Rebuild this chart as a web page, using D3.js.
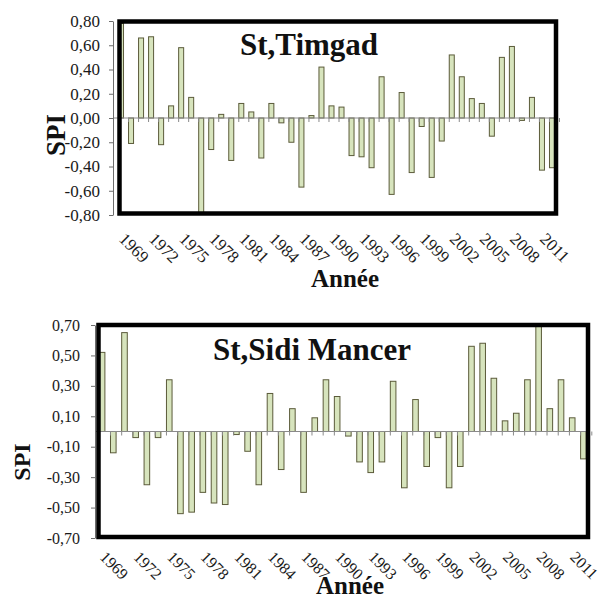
<!DOCTYPE html>
<html>
<head>
<meta charset="utf-8">
<script src="https://cdn.jsdelivr.net/npm/d3@7"></script>
<style>
  body { margin: 0; background: #fff; }
  svg { display: block; }
</style>
</head>
<body>
<script>
// Categories (years) shared by both stations
const years = [1969, 1970, 1971, 1972, 1973, 1974, 1975, 1976, 1977, 1978, 1979,
    1980, 1981, 1982, 1983, 1984, 1985, 1986, 1987, 1988, 1989, 1990, 1991,
    1992, 1993, 1994, 1995, 1996, 1997, 1998, 1999, 2000, 2001, 2002, 2003,
    2004, 2005, 2006, 2007, 2008, 2009, 2010, 2011, 2012];
const yearLabels = [1969, 1972, 1975, 1978, 1981, 1984, 1987, 1990, 1993,
    1996, 1999, 2002, 2005, 2008, 2011];

// SPI values
const timgadSpi = [0.78, -0.21, 0.66, 0.67, -0.22, 0.10, 0.58, 0.17, -0.78, -0.26,
    0.03, -0.35, 0.12, 0.05, -0.33, 0.12, -0.04, -0.20, -0.57, 0.02, 0.42, 0.10,
    0.09, -0.31, -0.32, -0.41, 0.34, -0.63, 0.21, -0.45, -0.07, -0.49, -0.19, 0.52,
    0.34, 0.16, 0.12, -0.15, 0.50, 0.59, -0.02, 0.17, -0.43, -0.41];
const sidiMancerSpi = [0.52, -0.14, 0.65, -0.04, -0.35, -0.04, 0.34, -0.54, -0.53,
    -0.40, -0.47, -0.48, -0.02, -0.13, -0.35, 0.25, -0.25, 0.15, -0.40, 0.09, 0.34,
    0.23, -0.03, -0.20, -0.27, -0.20, 0.33, -0.37, 0.21, -0.23, -0.04, -0.37, -0.23,
    0.56, 0.58, 0.35, 0.07, 0.12, 0.34, 0.71, 0.15, 0.34, 0.09, -0.18];

// Y tick values
const timgadTicks = [-0.8, -0.6, -0.4, -0.2, 0, 0.2, 0.4, 0.6, 0.8];
const sidiMancerTicks = [-0.7, -0.5, -0.3, -0.1, 0.1, 0.3, 0.5, 0.7];

const FONT = "'Liberation Serif', 'Times New Roman', serif";
const fmt = d3.formatLocale({
    decimal: ",", thousands: " ", grouping: [3], currency: ["", ""], minus: "-"
}).format(".2f");

const svg = d3.select('body')
    .append('svg')
    .attr('width', 600)
    .attr('height', 599);

function drawChart(values, ticks, title, o) {
    const g = svg.append('g');

    const x = d3.scaleBand()
        .domain(years)
        .range(o.xRange)
        .paddingInner(0.5)
        .paddingOuter(0.25);
    const y = d3.scaleLinear()
        .domain(o.domain)
        .range(o.yRange);
    const step = x.step();

    // bars
    g.append('g')
        .selectAll('rect')
        .data(values)
        .join('rect')
        .attr('x', (d, i) => x(years[i]))
        .attr('y', d => y(Math.max(0, Math.min(d, o.domain[1]))))
        .attr('width', x.bandwidth())
        .attr('height', d => Math.abs(y(Math.max(o.domain[0], Math.min(d, o.domain[1]))) - y(0)))
        .attr('fill', '#d7e4bd')
        .attr('stroke', '#5b5b3a')
        .attr('stroke-width', 1);

    // category axis on the zero line
    const zero = g.append('g').attr('stroke', '#8a8a8a');
    zero.append('line')
        .attr('x1', o.axisX).attr('x2', o.xRange[1])
        .attr('y1', y(0)).attr('y2', y(0));
    zero.selectAll('line.tk')
        .data(years.concat([null]))
        .join('line')
        .attr('class', 'tk')
        .attr('x1', (d, i) => o.xRange[0] + i * step + step * 0.25)
        .attr('x2', (d, i) => o.xRange[0] + i * step + step * 0.25)
        .attr('y1', y(0)).attr('y2', y(0) + 4);

    // thick plot frame
    g.append('rect')
        .attr('x', o.frame[0]).attr('y', o.frame[1])
        .attr('width', o.frame[2]).attr('height', o.frame[3])
        .attr('fill', 'none')
        .attr('stroke', '#000')
        .attr('stroke-width', 4.5);

    // value axis
    const yAxis = d3.axisLeft(y)
        .tickValues(ticks)
        .tickFormat(fmt)
        .tickSize(4)
        .tickSizeOuter(0)
        .tickPadding(o.tickPadding);
    const ya = g.append('g')
        .attr('transform', `translate(${o.axisX},0)`)
        .call(yAxis);
    ya.select('.domain').attr('stroke', '#6e6e6e');
    ya.selectAll('.tick line').attr('stroke', '#6e6e6e');
    ya.selectAll('.tick text')
        .attr('font-family', FONT)
        .attr('font-size', o.tickFont + 'px')
        .attr('fill', '#1a1a1a');

    // year labels, low position, rotated
    g.append('g')
        .selectAll('text')
        .data(yearLabels)
        .join('text')
        .attr('transform', d => `translate(${x(d) + x.bandwidth() / 2 - 3},${o.labelY}) rotate(45)`)
        .attr('font-family', FONT)
        .attr('font-size', o.tickFont + 'px')
        .attr('fill', '#1a1a1a')
        .text(d => d);

    // title inside the plot
    g.append('text')
        .attr('x', o.titlePos[0]).attr('y', o.titlePos[1])
        .attr('font-family', FONT)
        .attr('font-weight', 'bold')
        .attr('font-size', o.titleSize + 'px')
        .attr('fill', '#111')
        .text(title);

    // axis titles
    g.append('text')
        .attr('transform', `translate(${o.spiPos[0]},${o.spiPos[1]}) rotate(-90)`)
        .attr('text-anchor', 'middle')
        .attr('dy', '0.35em')
        .attr('font-family', FONT)
        .attr('font-weight', 'bold')
        .attr('font-size', o.spiSize + 'px')
        .attr('fill', '#111')
        .text('SPI');

    g.append('text')
        .attr('x', o.anneePos[0]).attr('y', o.anneePos[1])
        .attr('text-anchor', 'middle')
        .attr('font-family', FONT)
        .attr('font-weight', 'bold')
        .attr('font-size', o.anneeSize + 'px')
        .attr('fill', '#111')
        .text('Année');
}

drawChart(timgadSpi, timgadTicks, 'St,Timgad', {
    xRange: [116, 557], domain: [-0.8, 0.8], yRange: [215, 21],
    axisX: 113, frame: [119.5, 21.5, 436.5, 192],
    tickFont: 17, tickPadding: 9, labelY: 240,
    titlePos: [240, 55], titleSize: 31,
    spiPos: [56, 135], spiSize: 27,
    anneePos: [345, 287], anneeSize: 25
});

drawChart(sidiMancerSpi, sidiMancerTicks, 'St,Sidi Mancer', {
    xRange: [96.5, 589], domain: [-0.7, 0.7], yRange: [538, 325],
    axisX: 95, frame: [98.5, 325, 489.5, 212],
    tickFont: 16, tickPadding: 11, labelY: 558,
    titlePos: [213, 360], titleSize: 31,
    spiPos: [22, 462], spiSize: 24,
    anneePos: [350, 594], anneeSize: 25
});
</script>
</body>
</html>
